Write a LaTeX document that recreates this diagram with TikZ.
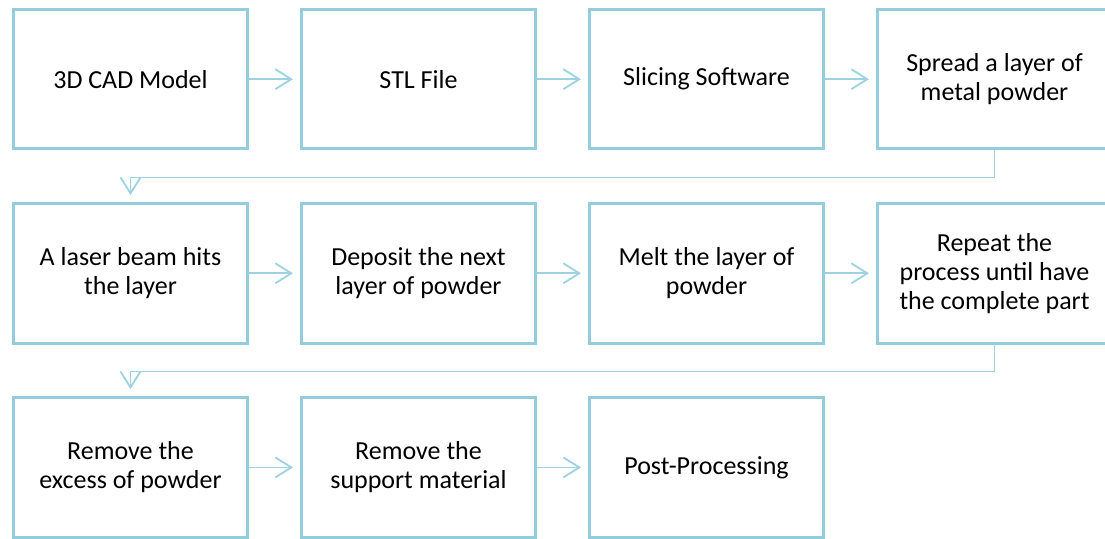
\documentclass[tikz,border=0pt]{standalone}
\usepackage{fontspec}
\setmainfont{Carlito}
\usetikzlibrary{arrows.meta}
\definecolor{boxblue}{HTML}{93CDDD}
\definecolor{linkblue}{HTML}{9DD2E0}
\begin{document}
\begin{tikzpicture}[x=1pt,y=-1pt,
  stepbox/.style={draw=boxblue, line width=3pt, minimum width=234pt,
    minimum height=139.5pt, inner sep=0pt, align=center, text=black,
    font=\fontsize{26}{29}\selectfont},
  flow/.style={draw=linkblue, line width=1.8pt,
    -{Straight Barb[length=16pt,width=20pt]}, shorten >=7pt}]
\useasboundingbox (0,0) rectangle (1105,538);
\clip (0,0) rectangle (1105,538);

% row 1
\node[stepbox] (cad)    at (130.5,79.2)  {3D CAD Model};
\node[stepbox] (stl)    at (418.5,79.2)  {STL File};
\node[stepbox] (slice)  at (706.5,79.2)  {Slicing Software};
\node[stepbox] (spread) at (994.5,79.2)  {Spread a layer of\\metal powder};
% row 2
\node[stepbox] (laser)   at (130.5,273.3) {A laser beam hits\\the layer};
\node[stepbox] (deposit) at (418.5,273.3) {Deposit the next\\layer of powder};
\node[stepbox] (melt)    at (706.5,273.3) {Melt the layer of\\powder};
\node[stepbox] (repeat)  at (994.5,273.3) {Repeat the\\process until have\\the complete part};
% row 3
\node[stepbox] (excess)  at (130.5,467.4) {Remove the\\excess of powder};
\node[stepbox] (support) at (418.5,467.4) {Remove the\\support material};
\node[stepbox] (post)    at (706.5,467.4) {Post-Processing};

% connectors
\draw[flow] (cad) -- (stl);
\draw[flow] (stl) -- (slice);
\draw[flow] (slice) -- (spread);
\draw[flow] (spread.south) -- ++(0,27) -| (laser.north);
\draw[flow] (laser) -- (deposit);
\draw[flow] (deposit) -- (melt);
\draw[flow] (melt) -- (repeat);
\draw[flow] (repeat.south) -- ++(0,27) -| (excess.north);
\draw[flow] (excess) -- (support);
\draw[flow] (support) -- (post);
\end{tikzpicture}
\end{document}
